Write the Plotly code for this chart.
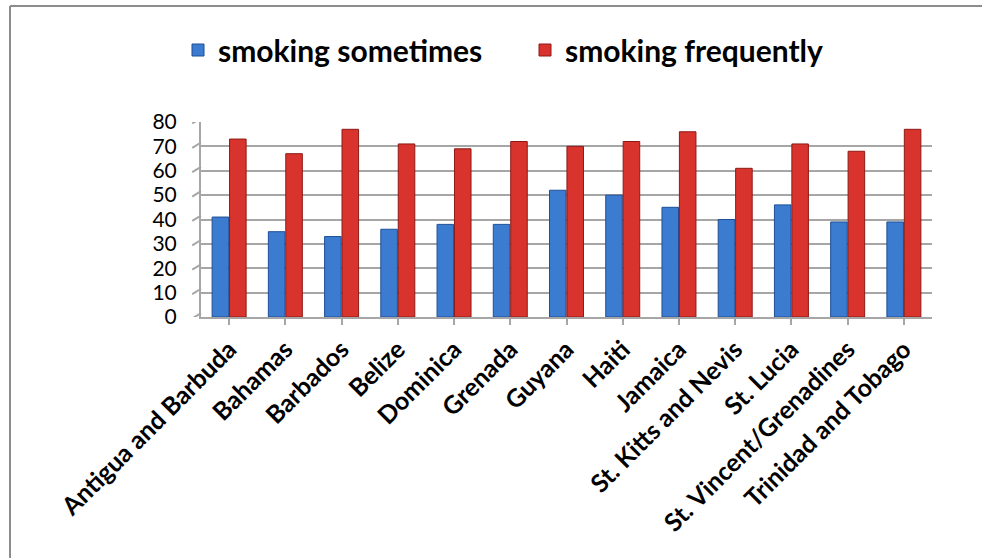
import plotly.graph_objects as go

countries = ["Antigua and Barbuda", "Bahamas", "Barbados", "Belize", "Dominica", "Grenada",
             "Guyana", "Haiti", "Jamaica", "St. Kitts and Nevis", "St. Lucia",
             "St. Vincent/Grenadines", "Trinidad and Tobago"]
smoking_sometimes = [41, 35, 33, 36, 38, 38, 52, 50, 45, 40, 46, 39, 39]
smoking_frequently = [73, 67, 77, 71, 69, 72, 70, 72, 76, 61, 71, 68, 77]
y_ticks = [0, 10, 20, 30, 40, 50, 60, 70, 80]

FONT = "Lato"

fig = go.Figure()
fig.add_trace(go.Bar(
    name="smoking sometimes", x=countries, y=smoking_sometimes,
    marker=dict(color="#3b7bd0", line=dict(color="#1f4f96", width=1)),
))
fig.add_trace(go.Bar(
    name="smoking frequently", x=countries, y=smoking_frequently,
    marker=dict(color="#d8332c", line=dict(color="#8e1a16", width=1)),
))

W, H = 982, 558
ML, MR, MT, MB = 201, 50, 122, 241
PW, PH = W - ML - MR, H - MT - MB

def px_x(x):
    return (x - ML) / PW

def px_y(y):
    return (H - MB - y) / PH

shapes = []
# 3D-like diagonal stubs on the left wall for each gridline
for v in y_ticks:
    shapes.append(dict(type="line", xref="paper", yref="y", x0=-0.012, x1=0.0, y0=v - 0.6, y1=v + 1.6,
                       line=dict(color="#a6a6a6", width=2)))
# figure border (top and left)
shapes.append(dict(type="line", xref="paper", yref="paper", x0=px_x(10), x1=px_x(990), y0=px_y(6), y1=px_y(6),
                   line=dict(color="#8c8c8c", width=2)))
shapes.append(dict(type="line", xref="paper", yref="paper", x0=px_x(10), x1=px_x(10), y0=px_y(6), y1=px_y(570),
                   line=dict(color="#8c8c8c", width=2)))

fig.update_layout(
    width=W, height=H,
    paper_bgcolor="white", plot_bgcolor="white",
    margin=dict(l=ML, r=MR, t=MT, b=MB, pad=0),
    barmode="group", bargap=0.38, bargroupgap=0.05,
    font=dict(family=FONT, color="black"),
    showlegend=True,
    legend=dict(orientation="h", x=px_x(178), xanchor="left", y=px_y(24), yanchor="top",
                yref="paper", font=dict(family=FONT, size=30, color="black", weight="bold"),
                itemwidth=30, traceorder="normal", entrywidth=302),
    xaxis=dict(tickangle=-45, tickfont=dict(family=FONT, size=25, weight="bold"),
               showline=True, linecolor="#a6a6a6", linewidth=2, ticks="outside", ticklen=6,
               tickcolor="#a6a6a6", tickwidth=2, showgrid=False, automargin=False),
    yaxis=dict(range=[0, 80], tickvals=y_ticks, tickfont=dict(family=FONT, size=21),
               showgrid=True, gridcolor="#a6a6a6", gridwidth=2, zeroline=False, automargin=False,
               showline=True, linecolor="#a6a6a6", linewidth=2, ticks="", ticklabelstandoff=18),
    shapes=shapes,
)

fig.write_html("out.html")
